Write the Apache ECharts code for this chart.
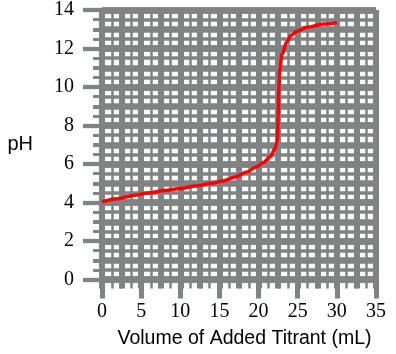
<!DOCTYPE html>
<html>
<head>
<meta charset="utf-8">
<script src="https://cdn.jsdelivr.net/npm/echarts@6/dist/echarts.min.js"></script>
<style>html,body{margin:0;padding:0;background:#fff}#c{width:396px;height:354px}</style>
</head>
<body>
<div id="c"></div>
<script>
// Data
var volumes = [0, 2, 4, 6, 8, 10, 12, 14, 15.5, 17, 18.5, 19.7, 20.6, 21.5, 22.1, 22.4, 22.5, 22.6, 22.7, 23.0, 23.6, 24.2, 24.9, 26.2, 28.3, 30];
var phValues = [4.03, 4.2, 4.37, 4.5, 4.62, 4.73, 4.86, 5.0, 5.12, 5.33, 5.58, 5.85, 6.08, 6.38, 6.8, 7.2, 8.5, 10, 10.9, 11.7, 12.35, 12.7, 12.9, 13.1, 13.27, 13.35];
var xTickLabels = ['0', '5', '10', '15', '20', '25', '30', '35'];
var yTickLabels = ['0', '2', '4', '6', '8', '10', '12', '14'];
var xName = 'Volume of Added Titrant (mL)';
var yName = 'pH';

var GRAY = '#7f8384';
var serif = 'Liberation Serif';
var sans = 'Liberation Sans';

var data = volumes.map(function (v, i) { return [v, phValues[i]]; });

function xAx(interval, lineW, tickLen, tickW, labels) {
  var a = {
    type: 'value', min: 0, max: 35, interval: interval, position: 'bottom',
    axisLine: { show: false },
    splitLine: { show: true, lineStyle: { color: GRAY, width: lineW } },
    axisTick: { show: true, length: tickLen, lineStyle: { color: GRAY, width: tickW } },
    axisLabel: { show: false }
  };
  if (labels) {
    a.axisLabel = {
      show: true, margin: 22, color: '#000', fontFamily: serif, fontSize: 20,
      formatter: function (v) { var i = xTickLabels.indexOf(String(v)); return i >= 0 ? xTickLabels[i] : ''; }
    };
    a.name = xName;
    a.nameLocation = 'middle';
    a.nameGap = 49;
    a.nameTextStyle = { color: '#000', fontFamily: sans, fontSize: 19.5, padding: [0, 0, 0, 11] };
  }
  return a;
}
function yAx(interval, lineW, tickLen, tickW, labels) {
  var a = {
    type: 'value', min: 0, max: 14, interval: interval, position: 'left',
    axisLine: { show: false },
    splitLine: { show: true, lineStyle: { color: GRAY, width: lineW } },
    axisTick: { show: true, length: tickLen, lineStyle: { color: GRAY, width: tickW } },
    axisLabel: { show: false }
  };
  if (labels) {
    a.axisLabel = {
      show: true, margin: 28, color: '#000', fontFamily: serif, fontSize: 20, padding: [7, 0, 0, 0],
      formatter: function (v) { var i = yTickLabels.indexOf(String(v)); return i >= 0 ? yTickLabels[i] : ''; }
    };
    a.name = yName;
    a.nameLocation = 'middle';
    a.nameRotate = 0;
    a.nameGap = 69;
    a.nameTextStyle = { color: '#000', fontFamily: sans, fontSize: 20, padding: [0, 0, 6, 0] };
  }
  return a;
}

var chart = echarts.init(document.getElementById('c'), null, { renderer: 'canvas' });
chart.setOption({
  animation: false,
  backgroundColor: '#fff',
  grid: { left: 102, right: 20, top: 5, bottom: 74.5, containLabel: false },
  xAxis: [xAx(1.25, 2.5, 9, 2.5, false), xAx(2.5, 6, 9, 6, false), xAx(5, 6, 19, 5, true)],
  yAxis: [yAx(0.5, 3.5, 9, 3, false), yAx(1, 6.5, 9, 4, false), yAx(2, 6.5, 19, 4.3, true)],
  series: [{
    type: 'line', xAxisIndex: 2, yAxisIndex: 2, data: data,
    smooth: 0.35, smoothMonotone: 'x', showSymbol: false,
    lineStyle: { color: '#ff0000', width: 3.5 }, z: 10
  }]
});
</script>
</body>
</html>
